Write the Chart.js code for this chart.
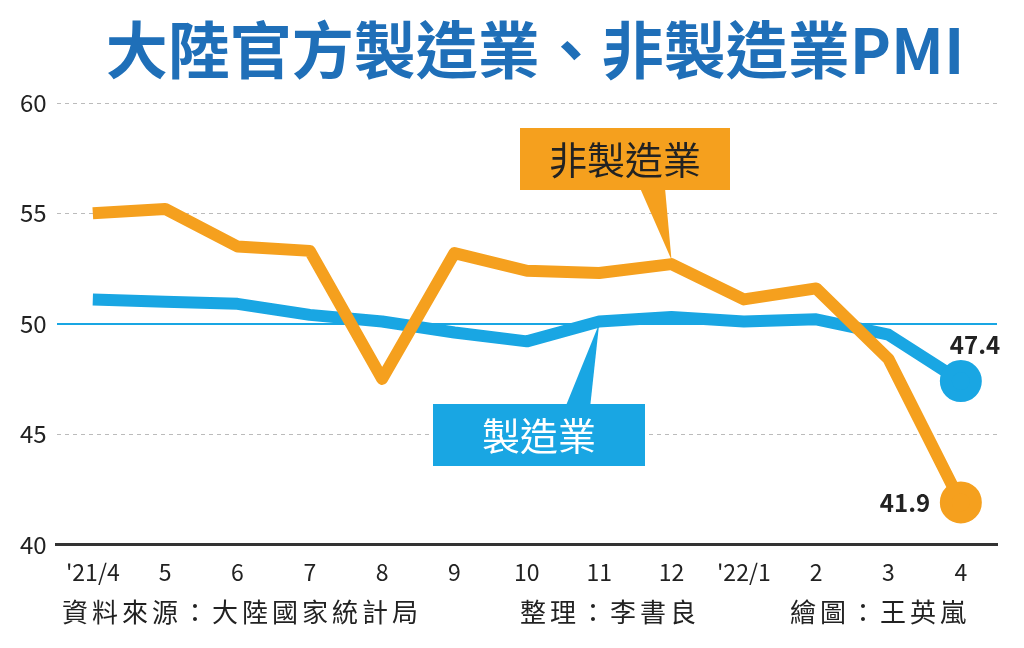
<!DOCTYPE html>
<html><head><meta charset="utf-8">
<script src="https://cdn.jsdelivr.net/npm/chart.js@4"></script>
<style>body{margin:0;background:#fff}#wrap{width:1024px;height:648px}</style>
</head><body><div id="wrap"><canvas id="c"></canvas></div>
<script>
const months = ["'21/4","5","6","7","8","9","10","11","12","'22/1","2","3","4"];
const nonManufacturing = [55.0,55.2,53.5,53.3,47.5,53.2,52.4,52.3,52.7,51.1,51.6,48.4,41.9];
const manufacturing = [51.1,51.0,50.9,50.4,50.1,49.6,49.2,50.1,50.3,50.1,50.2,49.5,47.4];
const ORANGE = '#f5a01e', BLUE = '#19a6e3';
const FONT = '"Noto Sans CJK TC", sans-serif';

const extras = {
  id: 'extras',
  afterDraw(chart) {
    const ctx = chart.ctx, x = chart.scales.x, y = chart.scales.y;
    ctx.save();
    // title
    ctx.fillStyle = '#1f6fb8';
    ctx.font = 'bold 62px ' + FONT;
    ctx.textAlign = 'center'; ctx.textBaseline = 'middle';
    ctx.fillText('大陸官方製造業、非製造業PMI', 535, 50);
    // orange label box with pointer
    ctx.fillStyle = ORANGE;
    ctx.beginPath();
    ctx.moveTo(640, 188); ctx.lineTo(x.getPixelForValue(8), y.getPixelForValue(52.9)); ctx.lineTo(665, 188);
    ctx.fill();
    ctx.fillRect(520, 128, 210, 62);
    ctx.fillStyle = '#222'; ctx.font = '38px ' + FONT;
    ctx.fillText('非製造業', 625, 160);
    // blue label box with pointer
    ctx.fillStyle = BLUE;
    ctx.beginPath();
    ctx.moveTo(565, 408); ctx.lineTo(x.getPixelForValue(7), y.getPixelForValue(50.0)); ctx.lineTo(590, 408);
    ctx.fill();
    ctx.fillRect(433, 404, 212, 62);
    ctx.fillStyle = '#fff';
    ctx.fillText('製造業', 539, 436);
    // value labels
    ctx.fillStyle = '#222'; ctx.font = 'bold 24px ' + FONT;
    ctx.fillText('47.4', 975, y.getPixelForValue(47.4) - 36);
    ctx.fillText('41.9', 905, y.getPixelForValue(41.9));
    // footer
    ctx.font = '26px ' + FONT; ctx.textAlign = 'left';
    ctx.letterSpacing = '4px';
    ctx.fillText('資料來源：大陸國家統計局', 62, 612);
    ctx.fillText('整理：李書良', 520, 612);
    ctx.fillText('繪圖：王英嵐', 790, 612);
    ctx.restore();
  }
};

new Chart(document.getElementById('c'), {
  type: 'line',
  data: {
    labels: months,
    datasets: [
      { data: nonManufacturing, borderColor: ORANGE, backgroundColor: ORANGE, borderWidth: 12,
        tension: 0, pointRadius: months.map((m, i) => i === months.length - 1 ? 15 : 0), borderJoinStyle: 'round' },
      { data: manufacturing, borderColor: BLUE, backgroundColor: BLUE, borderWidth: 12,
        tension: 0, pointRadius: months.map((m, i) => i === months.length - 1 ? 15 : 0), borderJoinStyle: 'round' }
    ]
  },
  options: {
    responsive: true, maintainAspectRatio: false, animation: false,
    layout: { padding: { top: 103, bottom: 56, right: 18, left: 10 } },
    plugins: { legend: { display: false }, tooltip: { enabled: false } },
    scales: {
      x: {
        offset: true,
        grid: { display: false, drawTicks: true },
        border: { color: '#333', width: 3 },
        ticks: { color: '#222', font: { size: 23, family: FONT }, padding: 6, maxRotation: 0 }
      },
      y: {
        min: 40, max: 60,
        ticks: { stepSize: 5, color: '#222', font: { size: 24, family: FONT }, padding: 10 },
        border: { display: false, dash: ctx => ctx.tick && ctx.tick.value === 50 ? [] : [4, 4] },
        grid: {
          color: ctx => ctx.tick && ctx.tick.value === 50 ? BLUE : '#bbb',
          lineWidth: ctx => ctx.tick && ctx.tick.value === 50 ? 2 : 1,
          drawTicks: false
        }
      }
    }
  },
  plugins: [extras]
});
</script></body></html>
